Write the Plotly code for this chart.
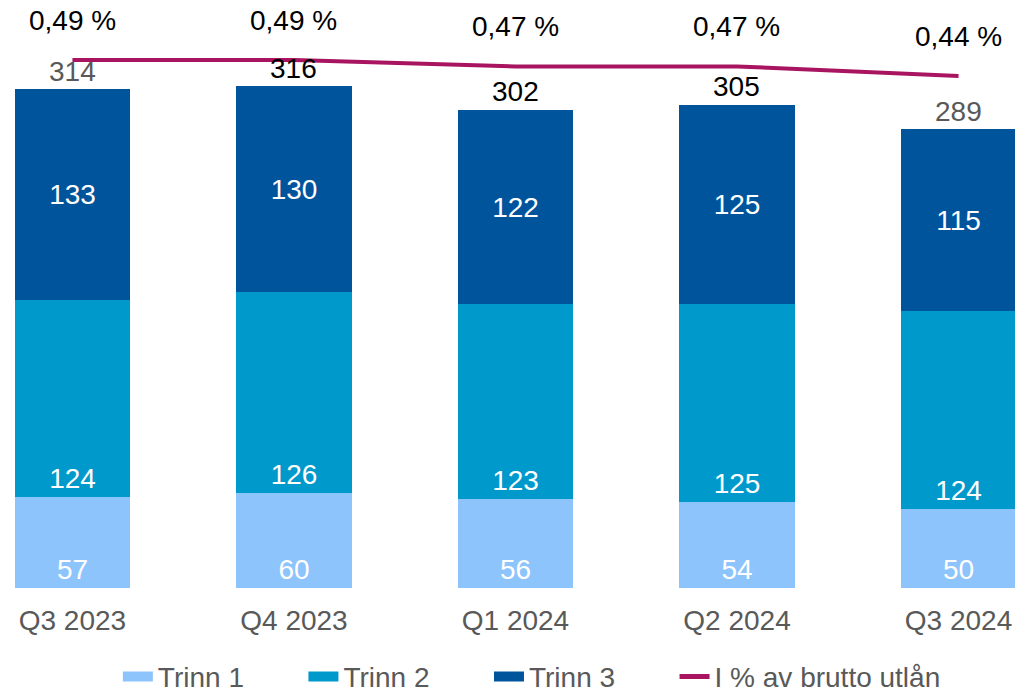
import plotly.graph_objects as go

categories = ["Q3 2023", "Q4 2023", "Q1 2024", "Q2 2024", "Q3 2024"]
trinn1 = [57, 60, 56, 54, 50]
trinn2 = [124, 126, 123, 125, 124]
trinn3 = [133, 130, 122, 125, 115]
totals = [314, 316, 302, 305, 289]
pct = [0.49, 0.49, 0.47, 0.47, 0.44]
pct_labels = ["0,49 %", "0,49 %", "0,47 %", "0,47 %", "0,44 %"]
total_colors = ["#595959", "#000000", "#000000", "#000000", "#595959"]
series_names = ["Trinn 1", "Trinn 2", "Trinn 3"]
line_name = "I % av brutto utlån"

FONT = "Liberation Sans, Arial, sans-serif"
FS = 28
C1, C2, C3, CL = "#8EC4FC", "#0099CC", "#00549C", "#A8145F"
PAD = "\u00a0" * 7

fig = go.Figure()
for name, vals, col, anchor in [(series_names[0], trinn1, C1, "start"),
                                (series_names[1], trinn2, C2, "start"),
                                (series_names[2], trinn3, C3, "middle")]:
    fig.add_trace(go.Bar(
        x=categories, y=vals, name=name, marker=dict(color=col, line=dict(width=0)),
        width=0.52, text=[str(v) for v in vals], textposition="inside",
        insidetextanchor=anchor, textangle=0,
        textfont=dict(color="white", size=FS, family=FONT),
        showlegend=False, hoverinfo="skip"))

fig.add_trace(go.Scatter(
    x=categories, y=pct, name=line_name, mode="lines",
    line=dict(color=CL, width=4), yaxis="y2", hoverinfo="skip",
    showlegend=False))

# legend-only entries (wide rectangle swatches)
for name, col, w in [(series_names[0] + PAD, C1, 16), (series_names[1] + PAD, C2, 16),
                     (series_names[2] + PAD, C3, 16), (line_name, CL, 5)]:
    fig.add_trace(go.Scatter(x=[None], y=[None], name=name, mode="lines",
                             line=dict(color=col, width=w), showlegend=True))

annotations = []
for c, t, col in zip(categories, totals, total_colors):
    annotations.append(dict(x=c, y=t, xref="x", yref="y", text=str(t),
                            showarrow=False, yanchor="middle", yshift=17,
                            font=dict(size=FS, color=col, family=FONT)))
for c, p, lab in zip(categories, pct, pct_labels):
    annotations.append(dict(x=c, y=p, xref="x", yref="y2", text=lab,
                            showarrow=False, yanchor="middle", yshift=40,
                            font=dict(size=FS, color="#000000", family=FONT)))

fig.update_layout(
    width=1015, height=692,
    margin=dict(l=0, r=0, t=0, b=104, autoexpand=False),
    paper_bgcolor="white", plot_bgcolor="white",
    barmode="stack", bargap=0,
    font=dict(family=FONT, size=FS, color="#595959"),
    xaxis=dict(range=[-0.327, 4.255], showgrid=False, showline=False,
               zeroline=False, ticks="", ticklabelstandoff=13, automargin=False,
               tickfont=dict(size=FS, color="#595959", family=FONT)),
    yaxis=dict(range=[0, 370], visible=False, showgrid=False, automargin=False),
    yaxis2=dict(range=[-1.16, 0.6775], overlaying="y", visible=False,
                showgrid=False),
    showlegend=True,
    legend=dict(orientation="h", x=0.524, xanchor="center", y=-0.151,
                yanchor="middle", traceorder="normal",
                font=dict(size=FS, color="#595959", family=FONT),
                itemwidth=30, tracegroupgap=0),
    annotations=annotations,
)

fig.write_html("out.html", config={"displayModeBar": False},
               post_script="document.body.style.margin='0';document.body.style.overflow='hidden';")
